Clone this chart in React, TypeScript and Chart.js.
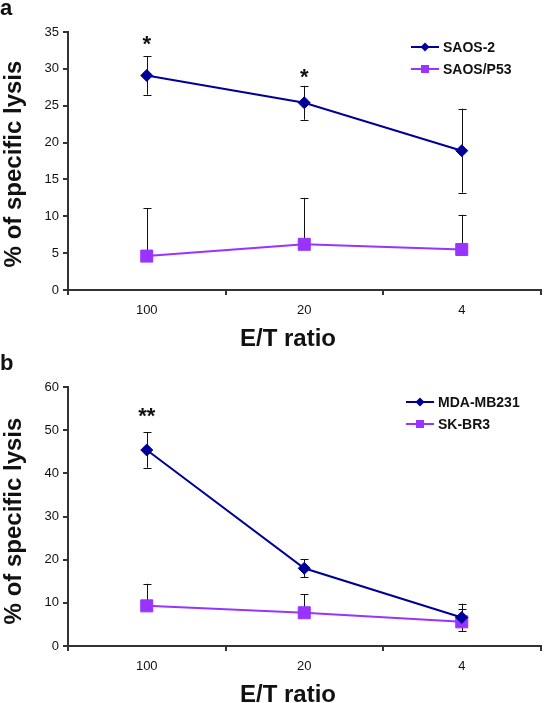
import React, { useEffect, useRef } from 'react';
import { Chart, registerables } from 'chart.js';

Chart.register(...registerables);

// ---------- data ----------
const categories = ['100', '20', '4'];

// panel a
const saos2 = [29.1, 25.4, 18.9];
const saos2Err = [2.6, 2.3, 5.7];
const saosP53 = [4.6, 6.2, 5.5];
const saosP53Err = [6.5, 6.3, 4.7];
const starsA = ['*', '*', ''];
const starsAValue = [33.9, 29.4, 0];
const yTicksA = { min: 0, max: 35, step: 5 };

// panel b
const mda = [45.4, 18.0, 6.6];
const mdaErr = [4.1, 2.1, 3.2];
const skbr3 = [9.3, 7.7, 5.6];
const skbr3Err = [5.1, 4.3, 3.0];
const starsB = ['**', '', ''];
const starsBValue = [54.2, 0, 0];
const yTicksB = { min: 0, max: 60, step: 10 };

const BLUE = '#000099';
const PURPLE = '#9933ff';
const AXIS = '#333333';
const FONT = '"Liberation Sans", Arial, Helvetica, sans-serif';

type Series = {
  label: string;
  data: number[];
  err: number[];
  both: boolean;
  color: string;
  style: 'rectRot' | 'rect';
};

type PanelProps = {
  height: number;
  top: number;
  padTop: number;
  xHeight: number;
  letter: string;
  letterBaseline: number;
  series: Series[];
  stars: string[];
  starValues: number[];
  starSize: number;
  yRange: { min: number; max: number; step: number };
  legendX: number;
  legendY: number[];
  yTitleCenterY: number;
  xTitleBaseline: number;
};

function Panel(p: PanelProps) {
  const ref = useRef<HTMLCanvasElement>(null);

  useEffect(() => {
    const canvas = ref.current;
    if (!canvas) return;

    const deco = {
      id: 'deco',
      beforeDatasetsDraw(chart: any) {
        const ctx = chart.ctx;
        const ys = chart.scales.y;
        ctx.save();
        ctx.strokeStyle = '#111';
        ctx.lineWidth = 1;
        p.series.forEach((s, i) => {
          const meta = chart.getDatasetMeta(i);
          s.data.forEach((v, j) => {
            const x = Math.round(meta.data[j].x) + 0.5;
            const yTop = ys.getPixelForValue(v + s.err[j]);
            const yBot = s.both ? ys.getPixelForValue(v - s.err[j]) : ys.getPixelForValue(v);
            ctx.beginPath();
            ctx.moveTo(x, yTop);
            ctx.lineTo(x, yBot);
            ctx.moveTo(x - 4, Math.round(yTop) + 0.5);
            ctx.lineTo(x + 4, Math.round(yTop) + 0.5);
            if (s.both) {
              ctx.moveTo(x - 4, Math.round(yBot) + 0.5);
              ctx.lineTo(x + 4, Math.round(yBot) + 0.5);
            }
            ctx.stroke();
          });
        });
        ctx.restore();
      },
      afterDraw(chart: any) {
        const ctx = chart.ctx;
        const xs = chart.scales.x;
        const ys = chart.scales.y;
        ctx.save();
        ctx.fillStyle = '#111';

        // panel letter
        ctx.font = `bold 22px ${FONT}`;
        ctx.textAlign = 'left';
        ctx.textBaseline = 'alphabetic';
        ctx.fillText(p.letter, 0, p.letterBaseline);

        // significance stars
        ctx.font = `bold ${p.starSize}px ${FONT}`;
        ctx.textAlign = 'center';
        p.stars.forEach((st, j) => {
          if (!st) return;
          const m = ctx.measureText(st);
          const off = (m.actualBoundingBoxAscent - m.actualBoundingBoxDescent) / 2;
          const x = xs.getPixelForValue(j);
          const y = ys.getPixelForValue(p.starValues[j]);
          ctx.fillText(st, x, y + off);
        });

        // y title
        ctx.font = `bold 24px ${FONT}`;
        ctx.save();
        ctx.translate(21, p.yTitleCenterY);
        ctx.rotate(-Math.PI / 2);
        ctx.textAlign = 'center';
        ctx.textBaseline = 'alphabetic';
        ctx.fillText('% of specific lysis', 0, 0);
        ctx.restore();

        // x title
        ctx.textAlign = 'center';
        ctx.textBaseline = 'alphabetic';
        ctx.fillText('E/T ratio', 288, p.xTitleBaseline);

        // legend
        p.series.forEach((s, i) => {
          const y = p.legendY[i];
          const x0 = p.legendX;
          ctx.strokeStyle = s.color;
          ctx.lineWidth = 2;
          ctx.beginPath();
          ctx.moveTo(x0, y);
          ctx.lineTo(x0 + 28, y);
          ctx.stroke();
          ctx.fillStyle = s.color;
          const cx = x0 + 14;
          if (s.style === 'rectRot') {
            ctx.beginPath();
            ctx.moveTo(cx, y - 4.5);
            ctx.lineTo(cx + 4.5, y);
            ctx.lineTo(cx, y + 4.5);
            ctx.lineTo(cx - 4.5, y);
            ctx.closePath();
            ctx.fill();
          } else {
            ctx.fillRect(cx - 4, y - 4, 8, 8);
          }
          ctx.fillStyle = '#111';
          ctx.font = `bold 14px ${FONT}`;
          ctx.textAlign = 'left';
          ctx.textBaseline = 'middle';
          ctx.fillText(s.label, x0 + 32, y + 1);
        });
        ctx.restore();
      },
    };

    const chart = new Chart(canvas, {
      type: 'line',
      data: {
        labels: categories,
        datasets: p.series.map((s) => ({
          label: s.label,
          data: s.data,
          borderColor: s.color,
          backgroundColor: s.color,
          borderWidth: 2,
          pointStyle: s.style,
          pointRadius: s.style === 'rectRot' ? 6 : 8.5,
          pointBorderWidth: 1,
          pointBorderColor: s.color,
          pointBackgroundColor: s.color,
          tension: 0,
          fill: false,
        })),
      },
      options: {
        animation: false,
        responsive: false,
        devicePixelRatio: 1,
        events: [],
        layout: { padding: { left: 0, right: 2, top: p.padTop, bottom: 0 } },
        plugins: {
          legend: { display: false },
          tooltip: { enabled: false },
          title: { display: false },
        },
        scales: {
          x: {
            type: 'category',
            offset: true,
            border: { display: true, color: AXIS, width: 2 },
            grid: {
              display: true,
              offset: true,
              drawOnChartArea: false,
              drawTicks: true,
              tickLength: 5,
              color: AXIS,
              lineWidth: 2,
            },
            ticks: {
              color: '#111',
              font: { family: FONT, size: 13 },
              padding: 8,
              maxRotation: 0,
            },
            afterFit: (s: any) => {
              s.height = p.xHeight;
            },
          },
          y: {
            type: 'linear',
            min: p.yRange.min,
            max: p.yRange.max,
            border: { display: true, color: AXIS, width: 2 },
            grid: {
              display: true,
              drawOnChartArea: false,
              drawTicks: true,
              tickLength: 5,
              color: AXIS,
              lineWidth: 2,
            },
            ticks: {
              stepSize: p.yRange.step,
              color: '#111',
              font: { family: FONT, size: 13 },
              padding: 4,
            },
            afterFit: (s: any) => {
              s.width = 68;
            },
          },
        },
      },
      plugins: [deco],
    } as any);

    return () => chart.destroy();
  }, []);

  return (
    <canvas
      ref={ref}
      width={550}
      height={p.height}
      style={{ position: 'absolute', left: 0, top: p.top, width: 550, height: p.height, display: 'block' }}
    />
  );
}

export default function App() {
  return (
    <div style={{ position: 'absolute', left: 0, top: 0, width: 550, height: 703, background: '#fff', overflow: 'hidden' }}>
      <Panel
        height={350}
        top={0}
        padTop={32}
        xHeight={60}
        letter="a"
        letterBaseline={15}
        series={[
          { label: 'SAOS-2', data: saos2, err: saos2Err, both: true, color: BLUE, style: 'rectRot' },
          { label: 'SAOS/P53', data: saosP53, err: saosP53Err, both: false, color: PURPLE, style: 'rect' },
        ]}
        stars={starsA}
        starValues={starsAValue}
        starSize={22}
        yRange={yTicksA}
        legendX={411}
        legendY={[47, 69]}
        yTitleCenterY={164}
        xTitleBaseline={346}
      />
      <Panel
        height={353}
        top={350}
        padTop={37}
        xHeight={57}
        letter="b"
        letterBaseline={20}
        series={[
          { label: 'MDA-MB231', data: mda, err: mdaErr, both: true, color: BLUE, style: 'rectRot' },
          { label: 'SK-BR3', data: skbr3, err: skbr3Err, both: false, color: PURPLE, style: 'rect' },
        ]}
        stars={starsB}
        starValues={starsBValue}
        starSize={22}
        yRange={yTicksB}
        legendX={406}
        legendY={[52, 74]}
        yTitleCenterY={171}
        xTitleBaseline={352}
      />
    </div>
  );
}
